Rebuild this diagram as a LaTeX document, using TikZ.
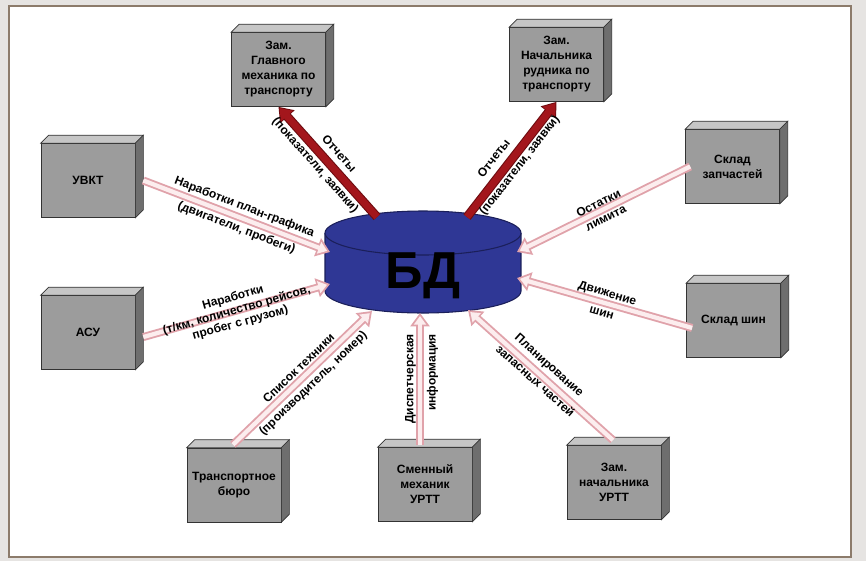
\documentclass[tikz,border=0pt]{standalone}
\usepackage{fontspec}
\setmainfont{Liberation Sans}
\usetikzlibrary{arrows.meta}
\definecolor{outerbg}{HTML}{E6E4E2}
\definecolor{framecol}{HTML}{8C7B6B}
\definecolor{boxfront}{HTML}{9C9C9C}
\definecolor{boxtop}{HTML}{C6C6C6}
\definecolor{boxside}{HTML}{6E6E6E}
\definecolor{boxline}{HTML}{333333}
\definecolor{dbblue}{HTML}{2F3795}
\definecolor{dbline}{HTML}{1B1F5A}
\definecolor{redarr}{HTML}{A3161C}
\definecolor{redline}{HTML}{6E0C10}
\definecolor{pinkout}{HTML}{E0A2AA}
\definecolor{pinkin}{HTML}{FCEDEE}
\begin{document}
\begin{tikzpicture}[x=0.75pt,y=-0.75pt,
  box/.style={draw=boxline, line width=0.5pt, fill=boxfront, minimum width=70.5pt, minimum height=55.5pt, inner sep=0pt, align=center, font=\fontsize{9}{11.25}\selectfont\bfseries},
  lbl/.style={font=\fontsize{9}{10}\selectfont\bfseries, inner sep=0pt, sloped, align=center, pos=0.5},
  redouter/.style={draw=redline, line width=6.8pt, -{Triangle[length=10pt,width=14pt]}},
  redinner/.style={draw=redarr, line width=5.2pt, shorten >=1.2pt, -{Triangle[length=8.2pt,width=11.5pt]}},
  pinkouter/.style={draw=pinkout, line width=6pt, -{Triangle[length=10pt,width=14pt]}},
  pinkinner/.style={draw=pinkin, line width=3.2pt, shorten >=2.3pt, -{Triangle[length=6.5pt,width=9pt]}},
  side/.style={draw=boxline, line width=0.5pt}
]
\useasboundingbox (0,0) rectangle (866,561);
% background and frame
\fill[outerbg] (0,0) rectangle (866,561);
\fill[white] (9,6) rectangle (851,557);
\draw[framecol, line width=2pt] (9,6) rectangle (851,557);

% boxes
\node[box] (gm) at (278.5,69.5) {Зам.\\Главного\\механика по\\транспорту};
\node[box] (nr) at (556.5,64.5) {Зам.\\Начальника\\рудника по\\транспорту};
\node[box] (uvkt) at (88,180.5) {УВКТ};
\node[box] (asu) at (88,332.5) {АСУ};
\node[box] (szp) at (732.5,166.5) {Склад\\запчастей};
\node[box] (ssh) at (733.5,320.5) {Склад шин};
\node[box] (tb) at (234,485) {Транспортное\\бюро};
\node[box] (sm) at (425,484.5) {Сменный\\механик\\УРТТ};
\node[box] (znu) at (614,482.5) {Зам.\\начальника\\УРТТ};
\foreach \b in {gm,nr,uvkt,asu,szp,ssh,tb,sm,znu}{
  \filldraw[side, fill=boxtop] (\b.north west) -- ([shift={(8,-8)}]\b.north west) -- ([shift={(8,-8)}]\b.north east) -- (\b.north east) -- cycle;
  \filldraw[side, fill=boxside] (\b.north east) -- ([shift={(8,-8)}]\b.north east) -- ([shift={(8,-8)}]\b.south east) -- (\b.south east) -- cycle;
}

% database cylinder
\fill[dbblue] (325,233) rectangle (521,291);
\fill[dbblue] (423,291) ellipse [x radius=73.5pt, y radius=16.5pt];
\draw[dbline, line width=0.8pt] (325,233) -- (325,291) arc[start angle=180, end angle=360, x radius=73.5pt, y radius=16.5pt] -- (521,233);
\filldraw[fill=dbblue, draw=dbline, line width=0.8pt] (423,233) ellipse [x radius=73.5pt, y radius=16.5pt];
\node (db) at (423,276) {\fontsize{39}{39}\selectfont\bfseries БД};

% connector end points
\coordinate (c1) at (330,252);
\coordinate (c2) at (330,284);
\coordinate (c3) at (517,252);
\coordinate (c4) at (517,278);
\coordinate (c5) at (372,311);
\coordinate (c6) at (420,313);
\coordinate (c7) at (468,310);
\coordinate (c8) at (377,217);
\coordinate (c9) at (467,217);
\coordinate (s1) at ([xshift=6pt]uvkt.east);
\coordinate (s2) at ([xshift=6pt,yshift=-3.4pt]asu.east);
\coordinate (s3) at ([xshift=3.75pt]szp.west);
\coordinate (s4) at ([xshift=4.5pt,yshift=-5.6pt]ssh.west);
\coordinate (s5) at ([xshift=-0.75pt,yshift=2.25pt]tb.north);
\coordinate (s6) at ([xshift=-3.75pt,yshift=1.5pt]sm.north);
\coordinate (s7) at ([xshift=-0.75pt,yshift=3.75pt]znu.north);

% red arrows (reports out of the DB)
\draw[redouter] (c8) -- (gm.south);
\draw[redouter] (c9) -- (nr.south);
\draw[redinner] (c8) -- (gm.south)
  node[lbl, pos=0.49, above=5pt] (l1a) {Отчеты}
  node[lbl, pos=0.54, below=2pt] (l1b) {(показатели, заявки)};
\draw[redinner] (c9) -- (nr.south)
  node[lbl, pos=0.43, above=5.5pt] (l2a) {Отчеты}
  node[lbl, pos=0.5, below=0.8pt] (l2b) {(показатели, заявки)};

% pink arrows (data into the DB)
\foreach \s/\t in {s1/c1,s2/c2,s3/c3,s4/c4,s5/c5,s6/c6,s7/c7}
  \draw[pinkouter] (\s) -- (\t);
\draw[pinkinner] (s1) -- (c1)
  node[lbl, pos=0.52, above=2.5pt] (l3a) {Наработки план-графика}
  node[lbl, pos=0.52, below=2.5pt] (l3b) {(двигатели, пробеги)};
\draw[pinkinner] (s2) -- (c2)
  node[lbl, pos=0.5] (l4) {Наработки\\(т/км, количество рейсов,\\пробег с грузом)};
\draw[pinkinner] (s3) -- (c3)
  node[lbl, pos=0.51, above=1pt] (l5a) {Остатки}
  node[lbl, pos=0.51, below=3pt] (l5b) {лимита};
\draw[pinkinner] (s4) -- (c4)
  node[lbl, pos=0.5, above=1.5pt] (l6a) {Движение}
  node[lbl, pos=0.5, below=4pt] (l6b) {шин};
\draw[pinkinner] (s5) -- (c5)
  node[lbl, pos=0.52, above=2.5pt] (l7a) {Список техники}
  node[lbl, pos=0.52, below=3pt] (l7b) {(производитель, номер)};
\draw[pinkinner] (s6) -- (c6)
  node[lbl, pos=0.5, above=1.5pt] (l8a) {Диспетчерская}
  node[lbl, pos=0.55, below=3.5pt] (l8b) {информация};
\draw[pinkinner] (s7) -- (c7)
  node[lbl, pos=0.5, above=3.5pt] (l9a) {Планирование}
  node[lbl, pos=0.5, below=0.5pt] (l9b) {запасных частей};
\end{tikzpicture}
\end{document}
